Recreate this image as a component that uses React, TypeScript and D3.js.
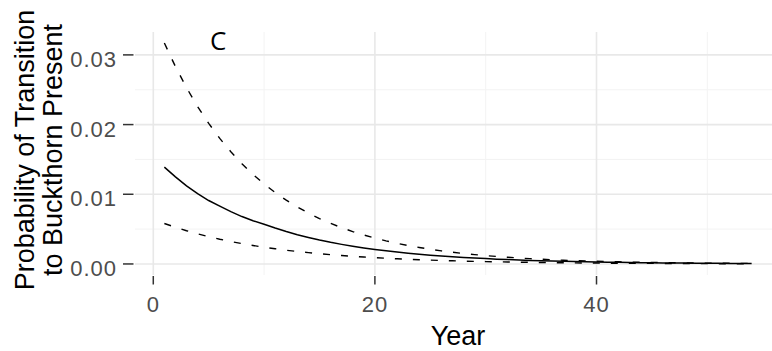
import React from "react";
import * as d3 from "d3";

const years: number[] = Array.from({ length: 54 }, (_, i) => i + 1);

const meanProb: number[] = [
  0.0139, 0.0125, 0.0112, 0.0101, 0.0091, 0.0083, 0.0075, 0.0068, 0.0062, 0.0057,
  0.00515, 0.00465, 0.0042, 0.0038, 0.00343, 0.0031, 0.00281, 0.00254, 0.0023, 0.00208,
  0.00188, 0.0017, 0.00154, 0.00139, 0.00126, 0.00114, 0.00103, 0.00093, 0.00085, 0.00077,
  0.00069, 0.00063, 0.00057, 0.00051, 0.00046, 0.00042, 0.00038, 0.00034, 0.00031, 0.00028,
  0.00025, 0.00023, 0.00021, 0.00019, 0.00017, 0.00015, 0.00014, 0.00013, 0.00011, 0.0001,
  0.00009, 0.00008, 0.00008, 0.00007,
];

const upperProb: number[] = [
  0.0317, 0.02832, 0.02529, 0.02259, 0.02018, 0.01802, 0.0161, 0.01438, 0.01284, 0.01147,
  0.01025, 0.00915, 0.00818, 0.0073, 0.00652, 0.00583, 0.0052, 0.00465, 0.00415, 0.00371,
  0.00331, 0.00296, 0.00264, 0.00236, 0.00211, 0.00188, 0.00168, 0.0015, 0.00134, 0.0012,
  0.00107, 0.00096, 0.00085, 0.00076, 0.00068, 0.00061, 0.00054, 0.00049, 0.00043, 0.00039,
  0.00035, 0.00031, 0.00027, 0.00024, 0.00022, 0.0002, 0.00017, 0.00016, 0.00014, 0.00012,
  0.00011, 0.0001, 0.00009, 0.00008,
];

const lowerProb: number[] = [
  0.0058, 0.00526, 0.00477, 0.00432, 0.00392, 0.00355, 0.00322, 0.00292, 0.00265, 0.0024,
  0.00218, 0.00197, 0.00179, 0.00162, 0.00147, 0.00133, 0.00121, 0.0011, 0.00099, 0.0009,
  0.00082, 0.00074, 0.00067, 0.00061, 0.00055, 0.0005, 0.00045, 0.00041, 0.00037, 0.00034,
  0.00031, 0.00028, 0.00025, 0.00023, 0.00021, 0.00019, 0.00017, 0.00015, 0.00014, 0.00013,
  0.00011, 0.0001, 0.00009, 0.00008, 0.00008, 0.00007, 0.00006, 0.00006, 0.00005, 0.00005,
  0.00004, 0.00004, 0.00003, 0.00003,
];

const xMajorTicks: number[] = [0, 20, 40];
const xMinorTicks: number[] = [10, 30, 50];
const yMajorTicks: number[] = [0, 0.01, 0.02, 0.03];
const yMinorTicks: number[] = [0.005, 0.015, 0.025];
const yTickLabels: string[] = ["0.00", "0.01", "0.02", "0.03"];
const xTitle = "Year";
const yTitleLines: string[] = ["Probability of Transition", "to Buckthorn Present"];
const panelLabel = "C";

export default function App() {
  const W = 772;
  const H = 351;
  const panelLeft = 135;
  const panelRight = 781;
  const panelTop = 32;
  const panelBottom = 275;

  const xMin = 1 - 0.05 * 53;
  const xMax = 54 + 0.05 * 53;
  const yMax = 0.0317;
  const yLo = -0.05 * yMax;
  const yHi = yMax * 1.05;

  const x = d3.scaleLinear().domain([xMin, xMax]).range([panelLeft, panelRight]);
  const y = d3.scaleLinear().domain([yLo, yHi]).range([panelBottom, panelTop]);

  const line = d3
    .line<number>()
    .x((_, i) => x(years[i]))
    .y((d) => y(d));

  const font = "'Liberation Sans', Arial, sans-serif";
  const tickColor = "#4d4d4d";

  return (
    <svg
      width={W}
      height={H}
      style={{ position: "absolute", left: 0, top: 0, background: "#fff" }}
    >
      <defs>
        <clipPath id="panel">
          <rect x={panelLeft} y={panelTop} width={panelRight - panelLeft} height={panelBottom - panelTop} />
        </clipPath>
      </defs>
      <rect x={0} y={0} width={W} height={H} fill="#fff" />
      {yMinorTicks.map((t) => (
        <line key={"ym" + t} x1={panelLeft} x2={panelRight} y1={y(t)} y2={y(t)} stroke="#f3f3f3" strokeWidth={1} />
      ))}
      {xMinorTicks.map((t) => (
        <line key={"xm" + t} x1={x(t)} x2={x(t)} y1={panelTop} y2={panelBottom} stroke="#f3f3f3" strokeWidth={1} />
      ))}
      {yMajorTicks.map((t) => (
        <line key={"yM" + t} x1={panelLeft} x2={panelRight} y1={y(t)} y2={y(t)} stroke="#e8e8e8" strokeWidth={1.6} />
      ))}
      {xMajorTicks.map((t) => (
        <line key={"xM" + t} x1={x(t)} x2={x(t)} y1={panelTop} y2={panelBottom} stroke="#e8e8e8" strokeWidth={1.6} />
      ))}

      <g clipPath="url(#panel)" fill="none" stroke="#000">
        <path d={line(upperProb) || ""} strokeWidth={1.4} strokeDasharray="7,11" />
        <path d={line(lowerProb) || ""} strokeWidth={1.4} strokeDasharray="7,11" />
        <path d={line(meanProb) || ""} strokeWidth={1.5} />
      </g>

      {yMajorTicks.map((t, i) => (
        <g key={"yt" + t}>
          <line x1={123} x2={133.5} y1={y(t)} y2={y(t)} stroke="#333" strokeWidth={1.5} />
          <text
            x={117}
            y={y(t) + 12}
            textAnchor="end"
            fontFamily={font}
            fontSize={22}
            letterSpacing={1}
            fill={tickColor}
          >
            {yTickLabels[i]}
          </text>
        </g>
      ))}
      {xMajorTicks.map((t) => (
        <g key={"xt" + t}>
          <line x1={x(t)} x2={x(t)} y1={276} y2={284.5} stroke="#333" strokeWidth={1.5} />
          <text x={x(t)} y={312} textAnchor="middle" fontFamily={font} fontSize={22} letterSpacing={1} fill={tickColor}>
            {String(t)}
          </text>
        </g>
      ))}

      <text x={458} y={345} textAnchor="middle" fontFamily={font} fontSize={27} fill="#000">
        {xTitle}
      </text>

      <g transform="translate(0,150) rotate(-90)" fontFamily={font} fontSize={27} fill="#000">
        {yTitleLines.map((l, i) => (
          <text key={l} x={0} y={34 + i * 28} textAnchor="middle">
            {l}
          </text>
        ))}
      </g>

      <text x={210} y={50} fontFamily="'Open Sans', sans-serif" fontSize={26} fill="#000">
        {panelLabel}
      </text>
    </svg>
  );
}
